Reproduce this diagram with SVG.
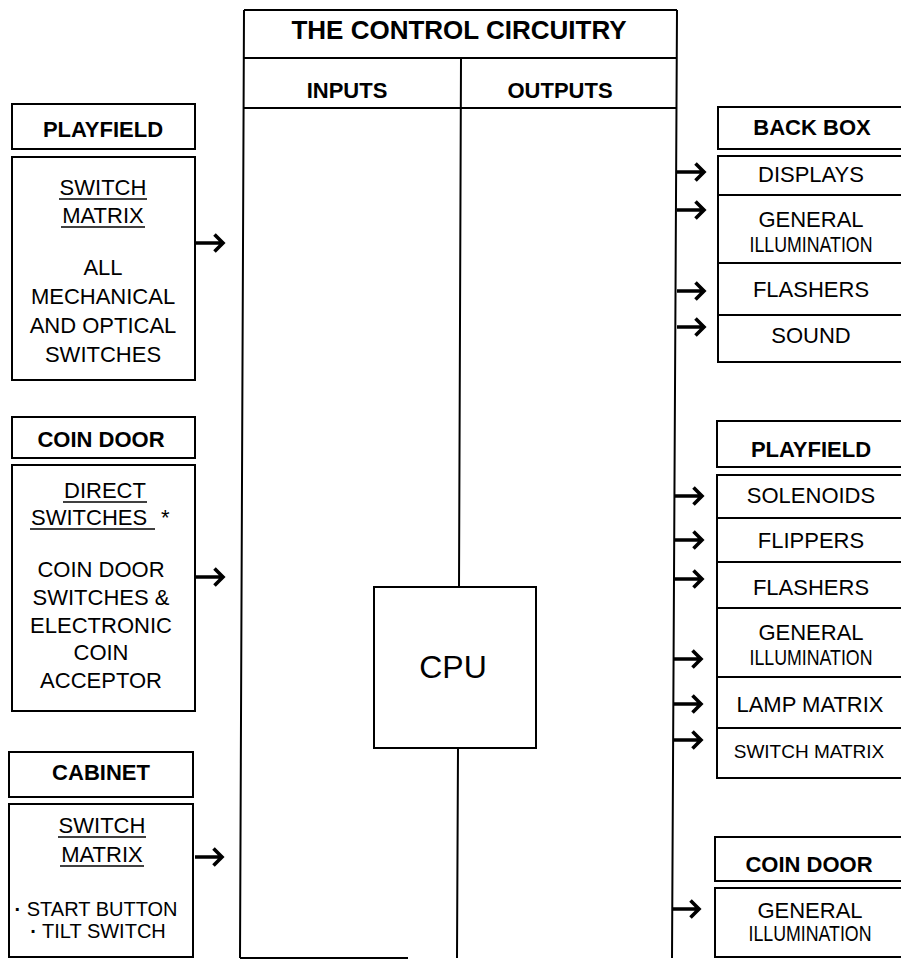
<svg xmlns="http://www.w3.org/2000/svg" xmlns:xlink="http://www.w3.org/1999/xlink" width="901" height="959" viewBox="0 0 901 959">
  <style>
    .box { fill: none; stroke: #000; stroke-width: 2; }
    .ln { fill: none; stroke: #000; stroke-width: 2; }
    .ul { stroke: #000; stroke-width: 1.6; }
    .t { font-family: "Liberation Sans", Arial, Helvetica, sans-serif; font-size: 22px; text-anchor: middle; fill: #000; }
    .b { font-weight: bold; }
    .sm { font-size: 20px; }
    .title { font-size: 26px; }
    .big { font-size: 32px; }
    .dot { font-weight: bold; }
    .arw { fill: none; stroke: #000; stroke-width: 3.6; stroke-linejoin: miter; }
  </style>
  <defs>
    <!-- thick shaft with an open chevron head, drawn from (0,0) pointing right -->
    <path id="arr" d="M0,0 H26 M18.5,-8.5 L27,0 L18.5,8.5"/>
  </defs>
  <rect width="901" height="959" fill="#fff"/>

  <!-- central frame: title, input/output columns and CPU -->
  <g id="control-circuitry">
    <path class="ln" d="M244,10 H677 M244,10 L240,958 M677,10 L672,958 M244,58 H677 M244,108 H676 M240,958 H408"/>
    <text class="t b title" x="459" y="39">THE CONTROL CIRCUITRY</text>
    <text class="t b" x="347" y="98">INPUTS</text>
    <text class="t b" x="560" y="98">OUTPUTS</text>
  </g>

  <g id="cpu">
    <path class="ln" d="M461,58 L459,587 M458,748 L457,958"/>
    <rect class="box" x="374" y="587" width="162" height="161"/>
    <text class="t big" x="453" y="678">CPU</text>
  </g>

  <!-- inputs -->
  <g id="in-playfield">
    <rect class="box" x="12" y="104" width="183" height="45"/>
    <text class="t b" x="103" y="137">PLAYFIELD</text>
    <rect class="box" x="12" y="157" width="183" height="223"/>
    <text class="t" x="103" y="195">SWITCH</text>
    <line class="ul" x1="59" y1="199" x2="147" y2="199"/>
    <text class="t" x="103" y="223">MATRIX</text>
    <line class="ul" x1="61" y1="227" x2="145" y2="227"/>
    <text class="t" x="103" y="275">ALL</text>
    <text class="t" x="103" y="304">MECHANICAL</text>
    <text class="t" x="103" y="333">AND OPTICAL</text>
    <text class="t" x="103" y="362">SWITCHES</text>
  </g>

  <g id="in-coin-door">
    <rect class="box" x="12" y="417" width="183" height="41"/>
    <text class="t b" x="101" y="447">COIN DOOR</text>
    <rect class="box" x="12" y="465" width="183" height="246"/>
    <text class="t" x="105" y="498">DIRECT</text>
    <line class="ul" x1="63" y1="502" x2="147" y2="502"/>
    <text class="t" x="31" y="525" style="text-anchor:start">SWITCHES<tspan x="161">*</tspan></text>
    <line class="ul" x1="30" y1="529" x2="155" y2="529"/>
    <text class="t" x="101" y="577">COIN DOOR</text>
    <text class="t" x="101" y="605">SWITCHES &amp;</text>
    <text class="t" x="101" y="633">ELECTRONIC</text>
    <text class="t" x="101" y="660">COIN</text>
    <text class="t" x="101" y="688">ACCEPTOR</text>
  </g>

  <g id="in-cabinet">
    <rect class="box" x="9" y="752" width="184" height="45"/>
    <text class="t b" x="101" y="780">CABINET</text>
    <rect class="box" x="9" y="804" width="184" height="153"/>
    <text class="t" x="102" y="833">SWITCH</text>
    <line class="ul" x1="58" y1="837" x2="146" y2="837"/>
    <text class="t" x="102" y="862">MATRIX</text>
    <line class="ul" x1="60" y1="866" x2="144" y2="866"/>
    <text class="t sm" x="96" y="916"><tspan class="dot">·</tspan> START BUTTON</text>
    <text class="t sm" x="98" y="938"><tspan class="dot">·</tspan> TILT SWITCH</text>
  </g>

  <!-- outputs -->
  <g id="out-back-box">
    <rect class="box" x="718" y="107" width="190" height="42"/>
    <text class="t b" x="812" y="135">BACK BOX</text>
    <rect class="box" x="718" y="156" width="190" height="206"/>
    <path class="ln" d="M718,195 H908 M718,263 H908 M718,315 H908"/>
    <text class="t" x="811" y="182">DISPLAYS</text>
    <text class="t" x="811" y="227">GENERAL</text>
    <text class="t" x="811" y="252" textLength="123" lengthAdjust="spacingAndGlyphs">ILLUMINATION</text>
    <text class="t" x="811" y="297">FLASHERS</text>
    <text class="t" x="811" y="343">SOUND</text>
  </g>

  <g id="out-playfield">
    <rect class="box" x="717" y="421" width="191" height="46"/>
    <text class="t b" x="811" y="457">PLAYFIELD</text>
    <rect class="box" x="717" y="475" width="191" height="303"/>
    <path class="ln" d="M717,518 H908 M717,562 H908 M717,608 H908 M717,677 H908 M717,728 H908"/>
    <text class="t" x="811" y="503">SOLENOIDS</text>
    <text class="t" x="811" y="548">FLIPPERS</text>
    <text class="t" x="811" y="595">FLASHERS</text>
    <text class="t" x="811" y="640">GENERAL</text>
    <text class="t" x="811" y="665" textLength="123" lengthAdjust="spacingAndGlyphs">ILLUMINATION</text>
    <text class="t" x="810" y="712">LAMP MATRIX</text>
    <text class="t" x="809" y="758" style="font-size:19px">SWITCH MATRIX</text>
  </g>

  <g id="out-coin-door">
    <rect class="box" x="715" y="837" width="193" height="44"/>
    <text class="t b" x="809" y="872">COIN DOOR</text>
    <rect class="box" x="715" y="888" width="193" height="69"/>
    <text class="t" x="810" y="918">GENERAL</text>
    <text class="t" x="810" y="941" textLength="123" lengthAdjust="spacingAndGlyphs">ILLUMINATION</text>
  </g>

  <!-- signal arrows into and out of the control circuitry -->
  <g id="connectors" class="arw">
    <use xlink:href="#arr" x="196" y="243"/>
    <use xlink:href="#arr" x="196" y="577"/>
    <use xlink:href="#arr" x="195" y="857"/>
    <use xlink:href="#arr" x="677" y="172"/>
    <use xlink:href="#arr" x="677" y="210"/>
    <use xlink:href="#arr" x="677" y="291"/>
    <use xlink:href="#arr" x="677" y="327"/>
    <use xlink:href="#arr" x="675" y="496"/>
    <use xlink:href="#arr" x="675" y="540"/>
    <use xlink:href="#arr" x="675" y="579"/>
    <use xlink:href="#arr" x="674" y="659"/>
    <use xlink:href="#arr" x="674" y="704"/>
    <use xlink:href="#arr" x="674" y="740"/>
    <use xlink:href="#arr" x="672" y="909"/>
  </g>
</svg>
